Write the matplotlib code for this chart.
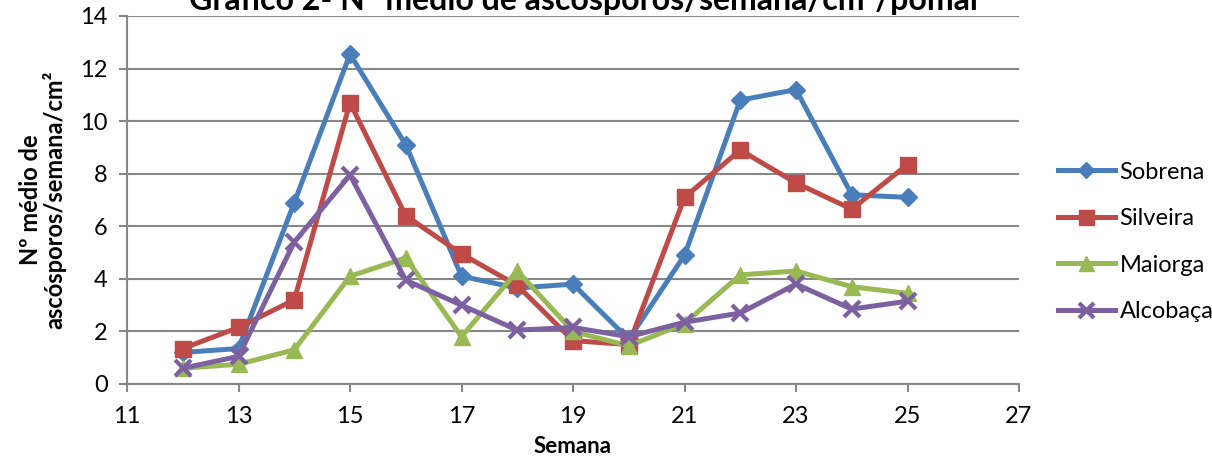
import matplotlib.pyplot as plt
import numpy as np

semana = [12, 13, 14, 15, 16, 17, 18, 19, 20, 21, 22, 23, 24, 25]
sobrena = [1.2, 1.35, 6.9, 12.55, 9.1, 4.1, 3.65, 3.8, 1.7, 4.9, 10.8, 11.2, 7.2, 7.1]
silveira = [1.35, 2.15, 3.2, 10.7, 6.4, 4.95, 3.75, 1.65, 1.5, 7.1, 8.9, 7.65, 6.65, 8.35]
maiorga = [0.6, 0.75, 1.3, 4.1, 4.8, 1.8, 4.3, 2.0, 1.45, 2.3, 4.15, 4.3, 3.7, 3.45]
alcobaca = [0.6, 1.05, 5.4, 7.95, 3.95, 3.0, 2.05, 2.15, 1.8, 2.35, 2.7, 3.8, 2.85, 3.15]

nomes = ["Sobrena", "Silveira", "Maiorga", "Alcobaça"]
cores = ["#4A7EBB", "#BE4B48", "#98B954", "#7D60A0"]

plt.rcParams['font.family'] = ['Lato', 'DejaVu Sans']

fig = plt.figure(figsize=(12.12, 4.59), dpi=100)
ax = fig.add_axes([127/1212, 1 - 384/459, (1019 - 127)/1212, (384 - 16)/459])

ax.plot(semana, sobrena, color=cores[0], lw=3.6, marker="D", ms=9, label=nomes[0])
ax.plot(semana, silveira, color=cores[1], lw=3.6, marker="s", ms=12, label=nomes[1])
ax.plot(semana, maiorga, color=cores[2], lw=3.6, marker="^", ms=12, label=nomes[2])
ax.plot(semana, alcobaca, color=cores[3], lw=3.6, marker="x", ms=12, mew=3, label=nomes[3])

ax.set_xlim(11, 27)
ax.set_ylim(0, 14)
ax.set_xticks(range(11, 28, 2))
ax.set_yticks(range(0, 15, 2))
ax.yaxis.grid(True, color="#878787", lw=1.5)
ax.set_axisbelow(True)
for s in ["top", "right"]:
    ax.spines[s].set_visible(False)
for s in ["left", "bottom"]:
    ax.spines[s].set_color("#878787")
    ax.spines[s].set_linewidth(1.5)
ax.tick_params(axis="both", colors="#878787", labelcolor="black", labelsize=17,
               width=1.5, length=6)
ax.tick_params(axis="x", pad=10)
ax.tick_params(axis="y", pad=8)

ax.set_xlabel("Semana", fontsize=16, fontweight="bold", labelpad=6)
ax.set_ylabel("Nº médio de\nascósporos/semana/cm²", fontsize=17, fontweight="bold",
              labelpad=10, linespacing=1.0)

# o titulo fica cortado em cima, como no original
fig.text(0.483, 1 - 10/459, "Gráfico 2- Nº médio de ascósporos/semana/cm²/pomar",
         ha="center", va="baseline", fontsize=23, fontweight="bold")

ax.legend(loc="upper left", bbox_to_anchor=(1.02, 0.662), frameon=False, fontsize=17,
          handlelength=2.4, labelspacing=1.08, handletextpad=0.2, markerscale=0.9)

fig.savefig("out.png", dpi=100)
